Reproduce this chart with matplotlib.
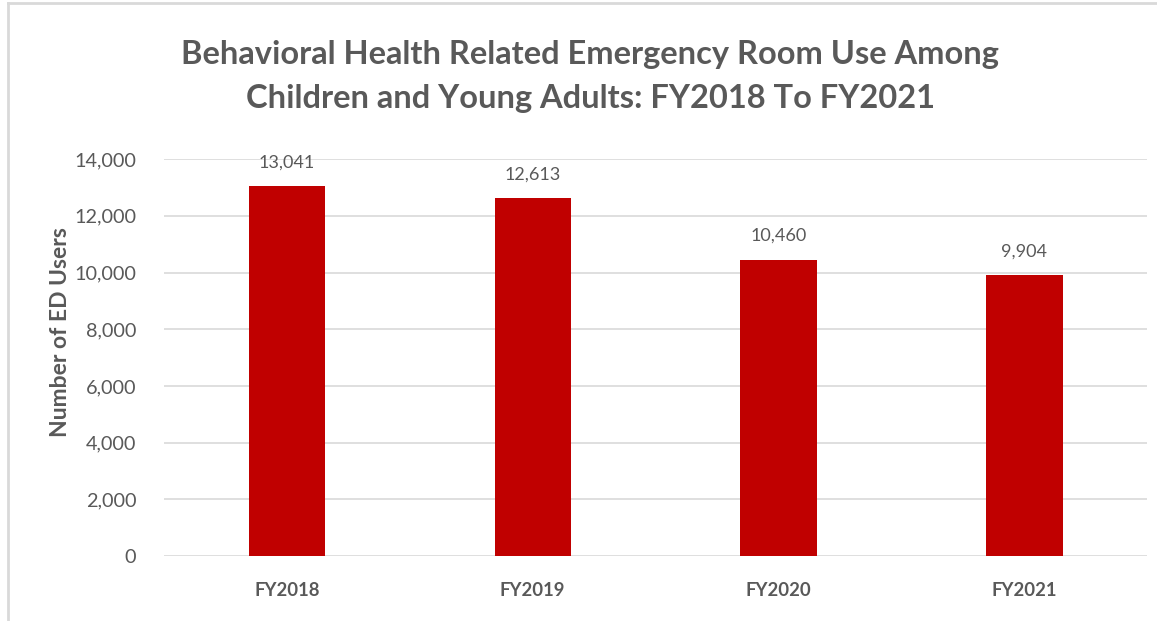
import matplotlib.pyplot as plt
from matplotlib.lines import Line2D

years = ["FY2018", "FY2019", "FY2020", "FY2021"]
users = [13041, 12613, 10460, 9904]

plt.rcParams['font.family'] = ['Lato', 'DejaVu Sans']
grey = "#595959"

fig = plt.figure(figsize=(11.57, 6.21), dpi=100)
ax = fig.add_axes([0.1417, 0.1047, 0.850, 0.639])

x = range(len(years))
ax.bar(x, users, width=0.31, color="#C00000", zorder=3)

for i, v in enumerate(users):
    ax.text(i, v + 560, f"{v:,}", ha="center", va="bottom",
            fontsize=13, color=grey)

ax.set_xlim(-0.5, len(years) - 0.5)
ax.set_ylim(0, 14000)
ax.set_yticks(range(0, 14001, 2000))
ax.set_yticklabels([f"{t:,}" for t in range(0, 14001, 2000)])
ax.set_xticks(list(x))
ax.set_xticklabels(years, fontweight="bold")

ax.grid(axis="y", color="#D9D9D9", linewidth=1.2, zorder=0)
for s in ["top", "right", "left", "bottom"]:
    ax.spines[s].set_visible(False)
ax.tick_params(axis="both", length=0, colors=grey)
ax.tick_params(axis="y", labelsize=14.3, pad=20)
ax.tick_params(axis="x", labelsize=13.3, pad=19)

ax.set_ylabel("Number of ED Users", fontsize=16.5, fontweight="bold",
              color=grey)
ax.yaxis.set_label_coords(-0.095, 0.565)

fig.text(0.51, 0.877, "Behavioral Health Related Emergency Room Use Among\n"
         "Children and Young Adults: FY2018 To FY2021",
         ha="center", va="center", fontsize=23.5, fontweight="bold",
         color=grey, linespacing=1.6)

# frame: top and left edges only
fig.add_artist(Line2D([0.007, 1.0], [0.995, 0.995], transform=fig.transFigure,
                      color="#D9D9D9", linewidth=2))
fig.add_artist(Line2D([0.007, 0.007], [0.0, 0.995], transform=fig.transFigure,
                      color="#D9D9D9", linewidth=2))

fig.savefig("out.png", dpi=100)
